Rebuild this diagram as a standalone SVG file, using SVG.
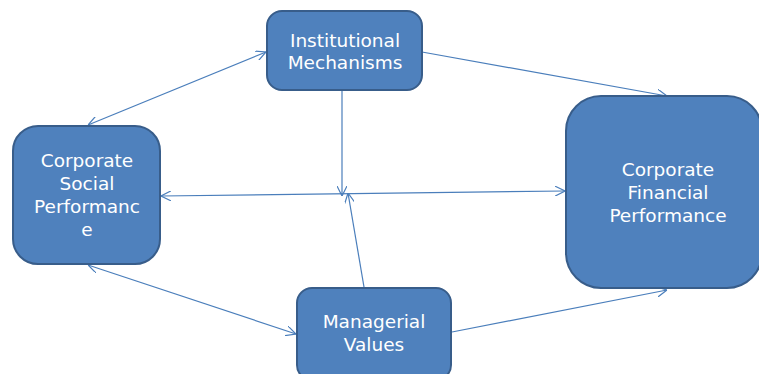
<svg xmlns="http://www.w3.org/2000/svg" width="759" height="374" viewBox="0 0 759 374">
<style>
.box{fill:#4f81bd;stroke:#385d8a;stroke-width:2}
.lbl{fill:#ffffff;font-family:"DejaVu Sans","Open Sans",sans-serif;font-size:18.5px;text-anchor:middle}
.c{stroke:#4a7ebb;stroke-width:1.2;fill:none}
</style>
<defs>
<marker id="ah" viewBox="0 0 10 10" refX="10" refY="5" markerWidth="10" markerHeight="10" markerUnits="userSpaceOnUse" orient="auto-start-reverse">
<path d="M0,0 L10,5 L0,10" fill="none" stroke="#4a7ebb" stroke-width="1.2"/>
</marker>
</defs>
<rect width="759" height="374" fill="#ffffff"/>
<g id="connectors">
<line class="c" x1="88" y1="125" x2="266" y2="52" marker-start="url(#ah)" marker-end="url(#ah)"/>
<line class="c" x1="422" y1="52" x2="667" y2="96" marker-end="url(#ah)"/>
<line class="c" x1="342" y1="91" x2="342" y2="196" marker-end="url(#ah)"/>
<line class="c" x1="161" y1="196" x2="565" y2="191" marker-start="url(#ah)" marker-end="url(#ah)"/>
<line class="c" x1="364" y1="287" x2="348" y2="193" marker-end="url(#ah)"/>
<line class="c" x1="88" y1="265" x2="296" y2="334" marker-start="url(#ah)" marker-end="url(#ah)"/>
<line class="c" x1="452" y1="332" x2="667" y2="290" marker-end="url(#ah)"/>
</g>
<g id="institutional">
<rect class="box" x="267" y="11" width="155" height="79" rx="15"/>
<text class="lbl" x="345" y="47">Institutional</text>
<text class="lbl" x="345" y="69">Mechanisms</text>
</g>
<g id="csp">
<rect class="box" x="13" y="126" width="147" height="138" rx="25"/>
<text class="lbl" x="87" y="167">Corporate</text>
<text class="lbl" x="87" y="190">Social</text>
<text class="lbl" x="87" y="213">Performanc</text>
<text class="lbl" x="87" y="236">e</text>
</g>
<g id="cfp">
<rect class="box" x="566" y="96" width="196" height="192" rx="35"/>
<text class="lbl" x="668" y="176">Corporate</text>
<text class="lbl" x="668" y="199">Financial</text>
<text class="lbl" x="668" y="222">Performance</text>
</g>
<g id="managerial">
<rect class="box" x="297" y="288" width="154" height="92" rx="15"/>
<text class="lbl" x="374" y="328">Managerial</text>
<text class="lbl" x="374" y="351">Values</text>
</g>
</svg>
